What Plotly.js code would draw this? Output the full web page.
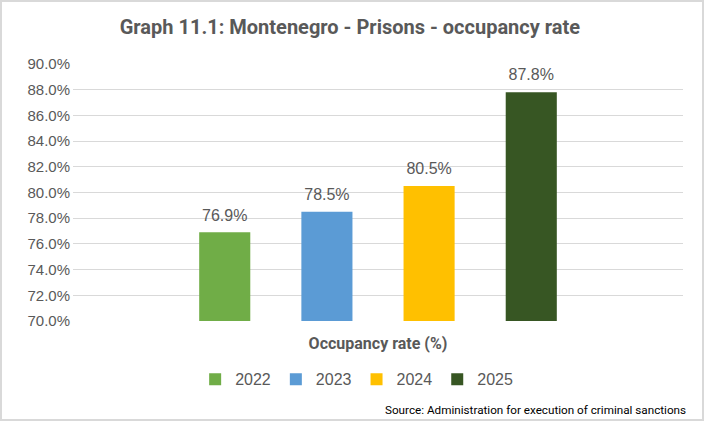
<!DOCTYPE html>
<html>
<head>
<meta charset="utf-8">
<script src="https://cdn.plot.ly/plotly-3.0.1.min.js"></script>
<style>
html,body{margin:0;padding:0;background:#fff;}
#frame{width:700px;height:417px;border:2px solid #d9d9d9;}
#chart{width:700px;height:417px;}
</style>
</head>
<body>
<div id="frame"><div id="chart"></div></div>
<script>
const category = ["Occupancy rate (%)"];
const years = ["2022", "2023", "2024", "2025"];
const rates = [76.9, 78.5, 80.5, 87.8];
const colors = ["#70AD47", "#5B9BD5", "#FFC000", "#375623"];
const yTicks = [70, 72, 74, 76, 78, 80, 82, 84, 86, 88, 90];

const gray = "#595959";
const sans = "'Liberation Sans', Arial, sans-serif";
const traces = years.map((yr, i) => ({
  type: "bar",
  name: yr,
  x: category,
  y: [rates[i]],
  marker: {color: colors[i]},
  text: [rates[i].toFixed(1) + "%"],
  texttemplate: "<span style='font-size:16px'>%{text}</span><br> ",
  textposition: "outside",
  cliponaxis: false,
  textfont: {family: sans, size: 6, color: gray},
  hoverinfo: "none"
}));

const layout = {
  width: 700, height: 417,
  margin: {l: 71, r: 19, t: 62, b: 98},
  paper_bgcolor: "#fff", plot_bgcolor: "#fff",
  title: {
    text: "<b>Graph 11.1: Montenegro - Prisons - occupancy rate</b>",
    font: {family: "Roboto, Arial, sans-serif", size: 20, color: gray},
    x: 0.497, xanchor: "center", xref: "container",
    y: 0.94, yanchor: "middle", yref: "container"
  },
  barmode: "group",
  bargap: 0.33,
  bargroupgap: 0.5,
  xaxis: {
    type: "category",
    showgrid: false, showline: false, zeroline: false,
    ticks: "", ticklabelstandoff: 11,
    tickfont: {family: "Roboto, Arial, sans-serif", size: 16, color: gray, weight: "bold"}
  },
  yaxis: {
    range: [70, 90],
    tickvals: yTicks,
    ticktext: yTicks.map(v => v.toFixed(1) + "%"),
    showgrid: true, gridcolor: "#d9d9d9", gridwidth: 1,
    zeroline: false, showline: false, ticks: "",
    ticklabelstandoff: 2,
    tickfont: {family: sans, size: 15, color: gray}
  },
  showlegend: true,
  legend: {
    orientation: "h", x: 0.465, xanchor: "center", y: -0.227, yanchor: "middle",
    font: {family: sans, size: 16, color: gray},
    itemwidth: 30, tracegroupgap: 0
  },
  annotations: [{
    text: "Source: Administration for execution of criminal sanctions",
    xref: "paper", yref: "paper", x: 1.008, y: -0.345,
    xanchor: "right", yanchor: "middle", showarrow: false,
    font: {family: "Roboto, Arial, sans-serif", size: 11.7, color: "#000"}
  }]
};

Plotly.newPlot("chart", traces, layout, {displayModeBar: false, staticPlot: true});
</script>
</body>
</html>
